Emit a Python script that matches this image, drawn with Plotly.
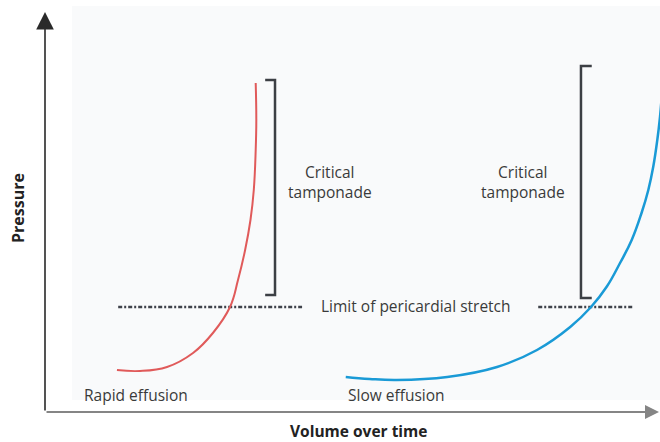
import plotly.graph_objects as go

# Data (volume units 0-100, pressure units 0-100)
rapid_x = [11.7, 15.45, 19.84, 24.07, 27.3, 30.08, 31.38, 32.54, 33.41, 33.95, 34.26, 34.36, 34.26]
rapid_y = [10.5, 10.25, 11.25, 14.75, 19.75, 26.25, 33.0, 40.5, 48.0, 55.5, 65.5, 73.0, 82.25]

slow_x = [48.9, 52.8, 57.2, 65.4, 73.5, 80.0, 85.4, 88.78, 91.33, 93.5, 95.4, 97.0, 98.1, 98.9, 99.56, 100.0, 100.3]
slow_y = [8.75, 8.25, 8.0, 8.75, 11.25, 15.5, 21.25, 26.25, 31.3, 37.25, 43.0, 49.75, 55.5, 61.3, 68.0, 73.8, 79.25]

stretch_level = 26.25
stretch_rapid_x = [11.9, 41.8]
stretch_slow_x = [80.2, 95.8]

bracket_rapid_x = [35.8, 37.4, 37.4, 35.8]
bracket_rapid_y = [83.0, 83.0, 29.25, 29.25]
bracket_slow_x = [88.9, 87.15, 87.15, 88.9]
bracket_slow_y = [86.5, 86.5, 28.5, 28.5]

labels = {
    "critical": "Critical<br>tamponade",
    "limit": "Limit of pericardial stretch",
    "rapid": "Rapid effusion",
    "slow": "Slow effusion",
    "ytitle": "Pressure",
    "xtitle": "Volume over time",
}

FONT = "Open Sans"
TXT = "#3a3a3a"
BR = "#3c3f44"
FS = 15.5

fig = go.Figure()

dash_style = "4px,2px,2px,2px"
fig.add_trace(go.Scatter(x=stretch_rapid_x, y=[stretch_level] * 2, mode="lines",
                         line=dict(color="#3f424a", width=2.5, dash=dash_style), hoverinfo="skip"))
fig.add_trace(go.Scatter(x=stretch_slow_x, y=[stretch_level] * 2, mode="lines",
                         line=dict(color="#3f424a", width=2.5, dash=dash_style), hoverinfo="skip"))
fig.add_trace(go.Scatter(x=bracket_rapid_x, y=bracket_rapid_y, mode="lines",
                         line=dict(color=BR, width=2.5), hoverinfo="skip"))
fig.add_trace(go.Scatter(x=bracket_slow_x, y=bracket_slow_y, mode="lines",
                         line=dict(color=BR, width=2.5), hoverinfo="skip"))
fig.add_trace(go.Scatter(x=rapid_x, y=rapid_y, mode="lines", line_shape="spline",
                         line=dict(color="#e05a5a", width=2, smoothing=1.2), hoverinfo="skip"))
fig.add_trace(go.Scatter(x=slow_x, y=slow_y, mode="lines", line_shape="spline",
                         line=dict(color="#1a9ad6", width=2.5, smoothing=1.2), hoverinfo="skip"))

def txt(x, y, text, anchor="center"):
    return dict(x=x, y=y, text=text, showarrow=False, align="center",
                font=dict(family=FONT, size=FS, color=TXT), xanchor=anchor, yanchor="middle")

ann = [
    txt(46.3, 57.5, labels["critical"]),
    txt(77.7, 57.5, labels["critical"]),
    txt(60.3, 26.6, labels["limit"]),
    txt(6.0, 4.3, labels["rapid"], "left"),
    txt(48.9, 4.3, labels["slow"], "left"),
]
# axis titles
ann.append(dict(xref="paper", yref="paper", x=-0.0439, y=0.51, text="<b>" + labels["ytitle"] + "</b>",
                showarrow=False, textangle=-90, font=dict(family=FONT, size=16, color="#222"),
                xanchor="center", yanchor="middle"))
ann.append(dict(xref="paper", yref="paper", x=0.509, y=-0.0475, text="<b>" + labels["xtitle"] + "</b>",
                showarrow=False, font=dict(family=FONT, size=15.5, color="#222"),
                xanchor="center", yanchor="middle"))
# axis arrows
ann.append(dict(xref="paper", yref="paper", x=0, y=1.0, ax=0, ay=400,
                showarrow=True, arrowhead=2, arrowsize=2.2, arrowwidth=1.6, arrowcolor="#2a2a2a", text=""))
ann.append(dict(xref="paper", yref="paper", x=1.0, y=0, ax=-615, ay=0,
                showarrow=True, arrowhead=2, arrowsize=1.4, arrowwidth=2, arrowcolor="#858585", text=""))

fig.update_layout(
    width=660, height=442,
    margin=dict(l=45, r=0, t=12, b=30),
    paper_bgcolor="white", plot_bgcolor="rgba(0,0,0,0)",
    showlegend=False,
    xaxis=dict(range=[0, 100], visible=False, fixedrange=True),
    yaxis=dict(range=[0, 100], visible=False, fixedrange=True),
    annotations=ann,
    shapes=[dict(type="rect", xref="paper", yref="paper", x0=0.0439, x1=1.0, y0=0.03, y1=1.015,
                 fillcolor="#f9fafb", line=dict(width=0), layer="below")],
)

fig.write_html("out.html", config={"displayModeBar": False},
               post_script="document.body.style.margin='0';document.body.style.overflow='hidden';")
